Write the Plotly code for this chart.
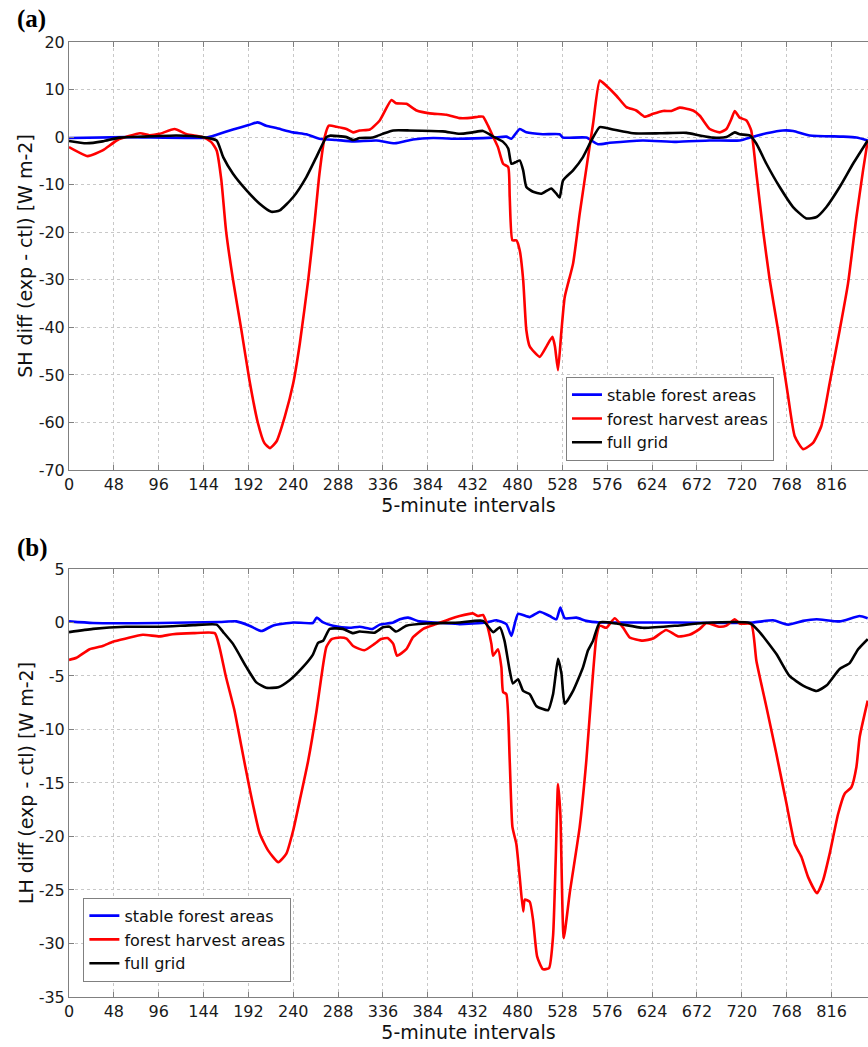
import plotly.graph_objects as go

# ---------------- Panel (a): sensible heat difference ----------------
sh_harvest_x = [0, 20, 36, 52, 76, 86, 97, 113, 126, 143, 152, 158, 163, 168, 175.5, 184.5, 193, 202, 209, 215,
                222, 231, 240, 247, 256, 263, 268, 273.6, 278, 286, 297, 304, 311, 322, 332.5, 345, 350, 361, 372,
                386, 404, 418, 432, 437.7, 443, 448.4, 454, 459, 464.5, 470, 471.6, 474.5, 478.7, 482.3, 486,
                489.4, 493, 503.7, 511, 517.3, 520, 523.3, 527, 530.5, 539.4, 546.5, 555.4, 560.8, 568, 575,
                585.8, 596.5, 607, 616, 625, 635.7, 644.6, 653.5, 667.8, 675, 685.6, 696.3, 703.5, 708.8, 712.4,
                717.7, 725, 730, 735.6, 742.7, 749.8, 758.8, 769.5, 776.6, 785.5, 796.2, 805, 814, 824.7, 833.6,
                842.6, 849.7, 854.7]
sh_harvest_y = [-2.1, -4.0, -2.8, -0.6, 0.8, 0.4, 0.7, 1.7, 0.6, 0.0, -1.0, -2.8, -9.0, -19.6, -30.0, -40.6, -51.0,
                -60.0, -64.3, -65.4, -64.0, -58.7, -51.7, -43.4, -30.0, -17.5, -7.7, 0.0, 2.4, 2.2, 1.7, 1.0, 1.4,
                1.6, 3.5, 7.8, 7.1, 7.0, 5.6, 5.0, 4.7, 4.0, 4.1, 4.3, 4.3, 2.4, 0.0, -2.1, -5.6, -6.3, -12.6,
                -21.7, -21.7, -23.8, -30.0, -40.6, -44.0, -46.2, -44.0, -42.0, -44.0, -49.0, -40.6, -33.6, -26.6,
                -16.1, -4.2, 2.8, 11.9, 10.8, 8.7, 6.3, 5.6, 4.3, 4.9, 5.5, 5.5, 6.2, 5.6, 4.5, 1.7, 1.0, 1.7, 3.8,
                5.5, 4.1, 3.5, 1.4, -7.7, -19.6, -30.0, -40.6, -54.5, -62.9, -65.6, -64.3, -60.8, -51.7, -40.6,
                -30.8, -16.8, -7.0, -0.7]

sh_grid_x = [0, 18.5, 36, 54, 79, 115, 143, 158, 165, 175.5, 190, 204, 216.5, 225.5, 240, 254, 264.7, 275.4, 279,
             297, 304, 311, 325, 336, 347, 364.6, 400, 418, 432, 443, 454, 464.5, 470, 473.4, 478.7, 482.3, 486,
             489.4, 496.6, 505.5, 516, 521.5, 525, 528.7, 539.4, 550, 559, 568, 582, 603.6, 632, 660.7, 675, 689,
             703.5, 712.4, 717.7, 728.4, 735.6, 746.3, 760.5, 774.8, 789, 800, 810.5, 824.7, 839, 854.7]
sh_grid_y = [-0.8, -1.3, -0.9, -0.1, 0.1, 0.35, 0.0, -0.7, -4.2, -7.7, -11.2, -14.0, -15.7, -15.4, -12.6, -8.4,
             -4.2, 0.0, 0.3, 0.0, -0.6, -0.2, -0.1, 0.7, 1.4, 1.4, 1.2, 0.7, 1.0, 1.3, 0.1, -1.0, -2.4, -5.6, -5.2,
             -4.9, -7.0, -10.5, -11.5, -11.9, -10.8, -11.9, -12.7, -9.1, -7.0, -4.2, -0.7, 2.1, 1.6, 0.8, 0.8, 0.9,
             0.35, -0.1, 0.0, 1.0, 0.6, 0.35, -1.4, -5.6, -10.5, -14.7, -17.1, -16.8, -14.7, -10.5, -5.6, -0.7]

sh_stable_x = [0, 61, 147, 158, 175.5, 193, 202, 211, 222, 240, 254, 268, 286, 304, 329, 348.6, 368, 389.6, 418,
               454, 468, 473.4, 482.3, 489.4, 507, 525, 528.7, 553.6, 566, 578.6, 614, 650, 685.6, 717.7, 732,
               746.3, 764, 775, 792.6, 828.3, 842.6, 854.7]
sh_stable_y = [-0.2, 0.0, -0.1, 0.5, 1.6, 2.6, 3.1, 2.4, 1.9, 1.0, 0.6, -0.35, -0.6, -0.9, -0.7, -1.3, -0.5, -0.2,
               -0.35, -0.1, 0.1, -0.35, 1.7, 1.0, 0.6, 0.6, -0.1, -0.1, -1.5, -1.2, -0.7, -1.0, -0.7, -0.7, 0.1,
               0.8, 1.4, 1.3, 0.35, 0.1, -0.1, -0.7]

# ---------------- Panel (b): latent heat difference ----------------
lh_harvest_x = [0, 8, 22, 36, 47, 61, 79, 97, 111, 133, 156, 161, 168, 177, 184.5, 193, 204, 213, 224, 232.6, 240,
                247, 256, 265, 270, 275.4, 281, 290, 297, 304, 316, 327, 334, 341, 347, 351, 361, 368, 379, 393,
                407, 418, 432, 437.7, 443, 446.6, 452, 453.8, 459, 462.7, 464.5, 468, 471.6, 474.5, 478.7, 482.3,
                486, 487.7, 493, 496.6, 500.9, 507, 513.7, 518, 520.8, 523.3, 525.8, 529.4, 535.8, 546.5, 553.6,
                559, 564.3, 568, 575, 584, 593, 600, 614, 625, 639, 651.7, 664, 675, 682, 696.3, 703.5, 712.4,
                717.7, 730, 735.6, 746.3, 757, 767.7, 776.6, 783.7, 790.9, 800.5, 806.9, 814, 823, 830, 837.2,
                842.6, 846.1, 854.7]
lh_harvest_y = [-3.5, -3.3, -2.5, -2.2, -1.8, -1.5, -1.15, -1.3, -1.1, -1.0, -1.0, -2.3, -5.1, -8.2, -11.6, -15.4,
                -19.7, -21.3, -22.4, -21.6, -19.4, -16.6, -12.9, -8.2, -5.1, -2.3, -1.55, -1.4, -1.5, -2.2, -2.6,
                -2.0, -1.55, -1.45, -2.0, -3.1, -2.5, -1.4, -0.6, -0.15, 0.3, 0.6, 0.85, 0.6, 0.7, 0.0, -2.0, -3.1,
                -2.5, -4.2, -6.5, -6.7, -12.9, -19.1, -20.7, -23.8, -27.0, -25.9, -26.1, -27.8, -31.2, -32.4,
                -32.3, -29.3, -22.2, -15.1, -17.9, -29.5, -25.3, -19.1, -12.9, -6.7, -1.4, -0.3, -0.5, 0.4, -0.5,
                -1.4, -1.7, -1.5, -0.7, -1.3, -1.15, -0.6, -0.05, -0.4, -0.3, 0.3, -0.1, -0.15, -3.6, -7.9, -12.3,
                -16.9, -20.7, -21.9, -23.8, -25.3, -24.1, -21.6, -17.9, -16.0, -15.4, -13.5, -10.7, -7.3]

lh_grid_x = [0, 25.7, 61, 97, 133, 158, 165, 175.5, 190, 200.5, 211, 224, 236, 250, 261, 266.5, 272, 279, 293, 304,
             311, 327, 336, 343, 350, 361, 382.5, 418, 443, 454, 461, 466, 471.6, 475, 480.5, 486, 493, 500,
             512.6, 518, 523.3, 527, 530.5, 539.4, 550, 555.4, 560.8, 568, 585.8, 614, 650, 678.5, 728.4, 739,
             757, 771, 785.5, 800, 810.5, 824.7, 835.4, 844.4, 854.7]
lh_grid_y = [-0.9, -0.6, -0.4, -0.4, -0.25, -0.2, -0.9, -2.0, -4.2, -5.6, -6.1, -6.05, -5.4, -4.2, -3.0, -1.9, -1.7,
             -0.6, -0.6, -1.0, -0.85, -0.95, -0.45, -0.4, -0.85, -0.3, -0.1, 0.0, 0.15, -0.9, -0.45, -1.7, -4.5,
             -5.7, -5.3, -6.4, -6.7, -7.8, -8.2, -6.7, -3.4, -4.8, -7.6, -6.4, -4.2, -2.6, -1.7, 0.0, -0.1, -0.5,
             -0.3, -0.05, -0.05, -0.9, -2.95, -5.0, -5.9, -6.4, -5.9, -4.35, -3.8, -2.5, -1.55]

lh_stable_x = [0, 25.7, 97, 161, 179, 193, 206, 218, 240, 261, 265, 272, 282.5, 300, 311, 325, 332.5, 347, 354, 363,
               375, 400, 418, 446.6, 457.3, 468, 473.4, 480.5, 493, 503.7, 514.4, 521.5, 525.8, 530.5, 543, 553.6,
               568, 596.5, 650, 703.5, 732, 753.4, 769.5, 785.5, 800, 824.7, 846, 854.7]
lh_stable_y = [0.1, -0.05, -0.05, 0.05, 0.1, -0.3, -0.8, -0.3, 0.0, -0.05, 0.45, 0.0, -0.3, -0.5, -0.4, -0.6, -0.2,
               0.0, 0.3, 0.45, 0.1, -0.05, -0.15, 0.0, 0.2, -0.15, -1.25, 0.8, 0.5, 1.0, 0.6, 0.3, 1.4, 0.4, 0.45,
               0.15, 0.0, 0.0, 0.0, -0.05, 0.0, 0.2, -0.2, 0.15, 0.3, 0.1, 0.6, 0.4]

series_names = ["stable forest areas", "forest harvest areas", "full grid"]
series_colors = ["#0000ff", "#ff0000", "#000000"]
x_tick_vals = list(range(0, 817, 48))
sh_tick_vals = [20, 10, 0, -10, -20, -30, -40, -50, -60, -70]
sh_tick_text = ["20", "10", "0", "-10", "-20", "-30", "-40", "-50", "-60", "-70"]
lh_tick_vals = [5, 0, -5, -10, -15, -20, -25, -30, -35]
lh_tick_text = ["5", "0", "-5", "-10", "-15", "-20", "-25", "-30", "-35"]

FONT = "DejaVu Sans, Arial, sans-serif"
SERIF = "Liberation Serif, Times New Roman, serif"

fig = go.Figure()

panel_a = [(sh_stable_x, sh_stable_y), (sh_harvest_x, sh_harvest_y), (sh_grid_x, sh_grid_y)]
panel_b = [(lh_stable_x, lh_stable_y), (lh_harvest_x, lh_harvest_y), (lh_grid_x, lh_grid_y)]

for (xs, ys), name, col in zip(panel_a, series_names, series_colors):
    fig.add_trace(go.Scatter(x=xs, y=ys, mode="lines", name=name,
                             line=dict(color=col, width=2.6, shape="spline", smoothing=0.5),
                             xaxis="x", yaxis="y", legend="legend"))
for (xs, ys), name, col in zip(panel_b, series_names, series_colors):
    fig.add_trace(go.Scatter(x=xs, y=ys, mode="lines", name=name,
                             line=dict(color=col, width=2.6, shape="spline", smoothing=0.5),
                             xaxis="x2", yaxis="y2", legend="legend2"))

axis_common = dict(
    showline=True, linecolor="#808080", linewidth=1,
    showgrid=True, gridcolor="#c8c8c8", griddash="dot", gridwidth=1,
    ticks="inside", ticklen=5, tickcolor="#808080", tickwidth=1,
    tickfont=dict(family=FONT, size=16, color="#1a1a1a"),
    zeroline=False,
)

xaxis_common = dict(axis_common, range=[0, 855], tickmode="array", tickvals=x_tick_vals,
                    mirror="ticks",
                    title=dict(text="5-minute intervals", font=dict(family=FONT, size=19, color="#111"),
                               standoff=3))

legend_common = dict(xanchor="left", yanchor="top", bgcolor="white",
                     bordercolor="#808080", borderwidth=1, font=dict(family=FONT, size=16, color="#111"),
                     tracegroupgap=0, itemwidth=30)

fig.update_layout(
    width=868, height=1047,
    paper_bgcolor="white", plot_bgcolor="white",
    margin=dict(l=69, r=0, t=42, b=50),
    xaxis=dict(xaxis_common, domain=[0, 1], anchor="y"),
    yaxis=dict(axis_common, domain=[0.5518, 1.0], anchor="x", range=[-70, 20],
               tickmode="array", tickvals=sh_tick_vals, ticktext=sh_tick_text,
               title=dict(text="SH diff (exp - ctl) [W m-2]", font=dict(family=FONT, size=19, color="#111"),
                          standoff=0)),
    xaxis2=dict(xaxis_common, domain=[0, 1], anchor="y2"),
    yaxis2=dict(axis_common, domain=[0.0, 0.4482], anchor="x2", range=[-35, 5],
                tickmode="array", tickvals=lh_tick_vals, ticktext=lh_tick_text,
                title=dict(text="LH diff (exp - ctl) [W m-2]", font=dict(family=FONT, size=19, color="#111"),
                           standoff=0)),
    legend=dict(legend_common, x=0.622, y=0.6495),
    legend2=dict(legend_common, x=0.018, y=0.104),
    showlegend=True,
    annotations=[
        dict(text="<b>(a)</b>", xref="paper", yref="paper", x=-0.0676, y=1.024, xanchor="left",
             yanchor="middle", showarrow=False, font=dict(family=SERIF, size=25, color="black")),
        dict(text="<b>(b)</b>", xref="paper", yref="paper", x=-0.0676, y=0.470, xanchor="left",
             yanchor="middle", showarrow=False, font=dict(family=SERIF, size=25, color="black")),
    ],
)

fig.write_html("out.html")
